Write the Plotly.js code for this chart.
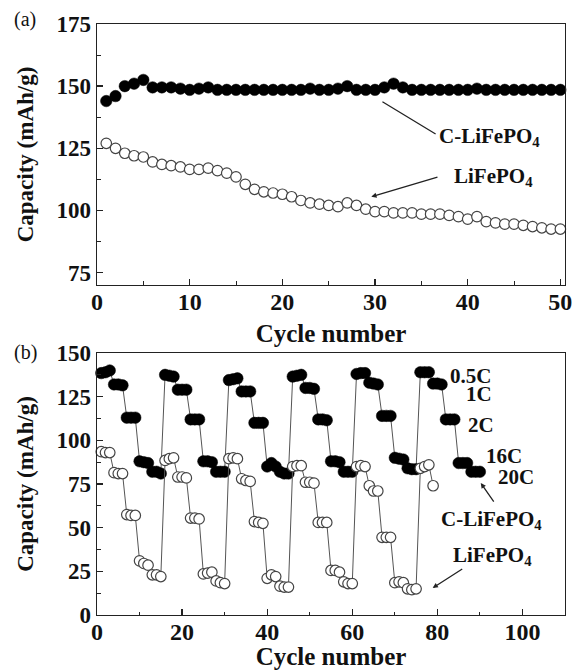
<!DOCTYPE html>
<html>
<head>
<meta charset="utf-8">
<script src="https://cdn.plot.ly/plotly-3.0.1.min.js"></script>
<style>html,body{margin:0;padding:0;background:#fff;}#chart{width:574px;height:670px;}</style>
</head>
<body>
<div id="chart"></div>
<script>
// ---- Panel (a): cycling performance ----
const cyclesA = [1,2,3,4,5,6,7,8,9,10,11,12,13,14,15,16,17,18,19,20,21,22,23,24,25,26,27,28,29,30,31,32,33,34,35,36,37,38,39,40,41,42,43,44,45,46,47,48,49,50];
const capCoatedA = [144,146,150,151,152.5,149.5,149.5,149.5,149,148.5,149,149.5,148.5,148.5,148.5,148.5,148.5,148.5,148.5,148.5,148.5,148.5,149,148.5,148.5,149,150,148.5,148.5,148.5,149.5,151,149.5,148.5,148.5,148.5,148.5,148.5,148.5,148.5,149,148.5,148.5,148.5,148.5,148.5,148.5,148.5,148.5,148.5];
const capBareA = [127,125,123,122,121.5,119.5,118.5,118,117.5,116.5,116.5,117,116,115,113.5,110.5,108.5,107.5,107,106.5,105.5,104,103,102.5,102,101.5,103,102,100.5,99.5,99.5,99,99,99,98.5,98.5,98.5,98,97.5,96.5,97.5,95.5,95,94.5,94.5,94,93.5,93,92.5,92.5];

// ---- Panel (b): rate capability ----
const cyclesCoatedB = [1,2,3,4,5,6,7,8,9,10,11,12,13,14,15,16,17,18,19,20,21,22,23,24,25,26,27,28,29,30,31,32,33,34,35,36,37,38,39,40,41,42,43,44,45,46,47,48,49,50,51,52,53,54,55,56,57,58,59,60,61,62,63,64,65,66,67,68,69,70,71,72,73,74,75,76,77,78,79,80,81,82,83,84,85,86,87,88,89,90];
const capCoatedB = [138.5,139,140,132,132,131.5,113,113,113,88,87.5,87,82,82,81,
  137.5,137,136.5,129,129,129,112,112,112,88,88,87.5,82,82,82,
  134.5,135,135.5,128,128,128,110,110,110,85,87,85,82,81,81,
  136.5,137,137.5,130,130,129.5,112,112,111.5,88,88,87.5,82,82,82,
  138,138.5,138.5,133,132.5,132,114,114,114,90,89.5,89,84,83.5,83.5,
  139,139,139,132.5,132.5,132,112,112,112,87,87,87,82,82,82];
const cyclesBareB = [1,2,3,4,5,6,7,8,9,10,11,12,13,14,15,16,17,18,19,20,21,22,23,24,25,26,27,28,29,30,31,32,33,34,35,36,37,38,39,40,41,42,43,44,45,46,47,48,49,50,51,52,53,54,55,56,57,58,59,60,61,62,63,64,65,66,67,68,69,70,71,72,73,74,75,76,77,78,79];
const capBareB = [93.5,93,93,81.5,81,81,57.5,57,57,31,29.5,28.5,23,23,22,
  88.5,89.5,90,79,79,78.5,55.5,55.5,55,23.5,24,24.5,19.5,18.5,18,
  89.5,90,89.5,78,77,76.5,53.5,53,52.5,21,23,22,16.5,16,16,
  85,85.5,85.5,76,76,75.5,53,53,53,25.5,25.5,24.5,19,18,18,
  85,85.5,85,74,71,71,44.5,44.5,44.5,18.5,19,18.5,15,14.5,15,
  84,85,86,74];
const rateLabels = ['0.5C','1C','2C','16C','20C'];
const seriesNames = ['C-LiFePO<sub>4</sub>','LiFePO<sub>4</sub>'];

const serif = 'Liberation Serif';
const xTickFont = {family: serif, size: 24, color: '#111', weight: 'bold'};
const yTickFont = {family: serif, size: 23, color: '#111', weight: 'bold'};
const xTitleFont = {family: serif, size: 25, color: '#111', weight: 'bold'};
const yTitleFont = {family: serif, size: 23, color: '#111', weight: 'bold'};
const annFont = {family: serif, size: 21, color: '#111', weight: 'bold'};

const filled = {size: 11.5, color: '#000', line: {color: '#000', width: 0.5}};
const open = {size: 10.5, color: '#fff', line: {color: '#444', width: 1.2}};

const traces = [
  {x: cyclesA, y: capCoatedA, xaxis: 'x', yaxis: 'y', mode: 'markers', marker: filled, name: 'C-LiFePO4', cliponaxis: false},
  {x: cyclesA, y: capBareA, xaxis: 'x', yaxis: 'y', mode: 'markers', marker: open, name: 'LiFePO4', cliponaxis: false},
  {x: cyclesCoatedB, y: capCoatedB, xaxis: 'x2', yaxis: 'y2', mode: 'lines+markers', marker: filled, line: {color: '#555', width: 1}, name: 'C-LiFePO4', cliponaxis: false},
  {x: cyclesBareB, y: capBareB, xaxis: 'x2', yaxis: 'y2', mode: 'lines+markers', marker: open, line: {color: '#555', width: 1}, name: 'LiFePO4', cliponaxis: false}
];

function xax(range, dtick, anchor, standoff) {
  return {anchor: anchor, domain: [0, 1], range: range, dtick: dtick, tick0: 0,
    ticks: 'inside', ticklen: 6, tickwidth: 1.3, tickcolor: '#222',
    minor: {ticks: 'inside', ticklen: 3.5, tickwidth: 1, tickcolor: '#222', dtick: dtick / 2},
    showline: true, mirror: true, linecolor: '#222', linewidth: 1.4,
    showgrid: false, zeroline: false, tickfont: xTickFont, ticklabelstandoff: -5,
    title: {text: 'Cycle number', font: xTitleFont, standoff: standoff}};
}
function yax(range, domain, anchor) {
  return {anchor: anchor, domain: domain, range: range, dtick: 25, tick0: 0,
    ticks: 'inside', ticklen: 6, tickwidth: 1.3, tickcolor: '#222',
    minor: {ticks: 'inside', ticklen: 3.5, tickwidth: 1, tickcolor: '#222', dtick: 12.5},
    showline: true, mirror: true, linecolor: '#222', linewidth: 1.4,
    showgrid: false, zeroline: false, tickfont: yTickFont,
    title: {text: 'Capacity (mAh/g)', font: yTitleFont, standoff: 16}};
}

const anns = [
  {xref: 'paper', yref: 'paper', x: -0.182, y: 1.007, xanchor: 'left', yanchor: 'middle', text: '(a)', showarrow: false, font: {family: serif, size: 20, color: '#111'}},
  {xref: 'paper', yref: 'paper', x: -0.182, y: 0.444, xanchor: 'left', yanchor: 'middle', text: '(b)', showarrow: false, font: {family: serif, size: 20, color: '#111'}},
  // panel (a) labels
  {xref: 'x', yref: 'y', x: 36.7, y: 129.6, xanchor: 'left', yanchor: 'middle', text: seriesNames[0], showarrow: false, font: annFont},
  {xref: 'x', yref: 'y', x: 38.3, y: 113.6, xanchor: 'left', yanchor: 'middle', text: seriesNames[1], showarrow: false, font: annFont},
  {xref: 'x', yref: 'y', axref: 'x', ayref: 'y', x: 30.8, y: 143.7, ax: 36.7, ay: 130.4, text: '', showarrow: true, arrowhead: 0, arrowwidth: 1.3, arrowcolor: '#222'},
  {xref: 'x', yref: 'y', axref: 'x', ayref: 'y', x: 29.6, y: 105.5, ax: 36.9, ay: 113.6, text: '', showarrow: true, arrowhead: 2, arrowsize: 0.8, arrowwidth: 1.3, arrowcolor: '#222'},
  // panel (b) labels
  {xref: 'x2', yref: 'y2', x: 82.4, y: 137, xanchor: 'left', yanchor: 'middle', text: rateLabels[0], showarrow: false, font: annFont},
  {xref: 'x2', yref: 'y2', x: 86.2, y: 126.5, xanchor: 'left', yanchor: 'middle', text: rateLabels[1], showarrow: false, font: annFont},
  {xref: 'x2', yref: 'y2', x: 86.7, y: 108.8, xanchor: 'left', yanchor: 'middle', text: rateLabels[2], showarrow: false, font: annFont},
  {xref: 'x2', yref: 'y2', x: 90.9, y: 91, xanchor: 'left', yanchor: 'middle', text: rateLabels[3], showarrow: false, font: annFont},
  {xref: 'x2', yref: 'y2', x: 93.7, y: 79.2, xanchor: 'left', yanchor: 'middle', text: rateLabels[4], showarrow: false, font: annFont},
  {xref: 'x2', yref: 'y2', x: 80.3, y: 54.4, xanchor: 'left', yanchor: 'middle', text: seriesNames[0], showarrow: false, font: annFont},
  {xref: 'x2', yref: 'y2', x: 83.1, y: 33.8, xanchor: 'left', yanchor: 'middle', text: seriesNames[1], showarrow: false, font: annFont},
  {xref: 'x2', yref: 'y2', axref: 'x2', ayref: 'y2', x: 90.2, y: 75.6, ax: 93.5, ay: 64.1, text: '', showarrow: true, arrowhead: 2, arrowsize: 0.8, arrowwidth: 1.3, arrowcolor: '#222'},
  {xref: 'x2', yref: 'y2', axref: 'x2', ayref: 'y2', x: 78.9, y: 15.5, ax: 86.2, ay: 26.9, text: '', showarrow: true, arrowhead: 2, arrowsize: 0.8, arrowwidth: 1.3, arrowcolor: '#222'}
];

const layout = {
  width: 574, height: 670,
  margin: {l: 97, r: 9, t: 24, b: 55, autoexpand: false},
  paper_bgcolor: '#fff', plot_bgcolor: '#fff',
  showlegend: false,
  font: {family: serif, color: '#111'},
  xaxis: xax([0, 50.5], 10, 'y', 10),
  yaxis: yax([70, 175], [0.5584, 1], 'x'),
  xaxis2: xax([0, 110], 20, 'y2', 2),
  yaxis2: yax([0, 150], [0, 0.4433], 'x2'),
  annotations: anns
};

Plotly.newPlot('chart', traces, layout, {staticPlot: true, displayModeBar: false});
</script>
</body>
</html>
